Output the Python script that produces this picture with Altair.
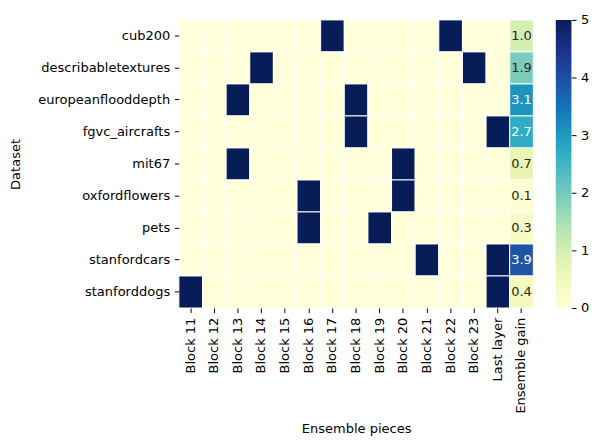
import altair as alt
import pandas as pd

datasets = ["cub200", "describabletextures", "europeanflooddepth", "fgvc_aircrafts",
            "mit67", "oxfordflowers", "pets", "stanfordcars", "stanforddogs"]
pieces = ["Block 11", "Block 12", "Block 13", "Block 14", "Block 15", "Block 16",
          "Block 17", "Block 18", "Block 19", "Block 20", "Block 21", "Block 22",
          "Block 23", "Last layer", "Ensemble gain"]
selected = {
    "cub200": ["Block 17", "Block 22"],
    "describabletextures": ["Block 14", "Block 23"],
    "europeanflooddepth": ["Block 13", "Block 18"],
    "fgvc_aircrafts": ["Block 18", "Last layer"],
    "mit67": ["Block 13", "Block 20"],
    "oxfordflowers": ["Block 16", "Block 20"],
    "pets": ["Block 16", "Block 19"],
    "stanfordcars": ["Block 21", "Last layer"],
    "stanforddogs": ["Block 11", "Last layer"],
}
gains = [1.0, 1.9, 3.1, 2.7, 0.7, 0.1, 0.3, 3.9, 0.4]
selected_value = 5
colorbar_ticks = [0, 1, 2, 3, 4, 5]

rows = []
for ds, g in zip(datasets, gains):
    for p in pieces:
        if p == "Ensemble gain":
            v = g
        else:
            v = selected_value if p in selected[ds] else 0
        rows.append({"Dataset": ds, "piece": p, "value": v, "is_gain": p == "Ensemble gain"})
df = pd.DataFrame(rows)
ticks_df = pd.DataFrame({"tick": colorbar_ticks})

ylgnbu = ["#ffffd9", "#edf8b1", "#c7e9b4", "#7fcdbb", "#41b6c4",
          "#1d91c0", "#225ea8", "#253494", "#081d58"]
stops = [i * 5 / 8 for i in range(9)]

FS = 13.33
W, H = 363, 295
x_enc = alt.X("piece:N", sort=pieces, title="Ensemble pieces",
              scale=alt.Scale(paddingInner=0, paddingOuter=0),
              axis=alt.Axis(labelAngle=-90, domain=False, tickColor="black", tickSize=4.7,
                            labelPadding=4.7, labelFontSize=FS, titleFontSize=FS,
                            titleFontWeight="normal", titlePadding=9, labelColor="black",
                            titleColor="black"))
y_enc = alt.Y("Dataset:N", sort=datasets, title="Dataset",
              scale=alt.Scale(paddingInner=0, paddingOuter=0),
              axis=alt.Axis(domain=False, tickColor="black", tickSize=4.7,
                            labelPadding=4.7, labelFontSize=FS, titleFontSize=FS,
                            titleFontWeight="normal", titlePadding=16, labelColor="black",
                            titleColor="black"))

rect = alt.Chart(df).mark_rect(stroke="white", strokeWidth=1).encode(
    x=x_enc, y=y_enc,
    color=alt.Color("value:Q",
                    scale=alt.Scale(domain=stops, range=ylgnbu, clamp=True),
                    legend=alt.Legend(title=None, orient="none", legendX=W + 23, legendY=0,
                                      gradientLength=H, gradientThickness=16,
                                      padding=0, labelOpacity=0, labelFontSize=1,
                                      labelOffset=0,
                                      values=colorbar_ticks, gradientStrokeWidth=0)),
)

text = alt.Chart(df).transform_filter("datum.is_gain").mark_text(fontSize=FS).encode(
    x=alt.X("piece:N", sort=pieces),
    y=alt.Y("Dataset:N", sort=datasets),
    text=alt.Text("value:Q", format=".1f"),
    color=alt.condition("datum.value > 2.5", alt.value("white"), alt.value("#262626")),
)

cbar_axis = alt.Chart(ticks_df).mark_point(opacity=0, size=0).encode(
    y=alt.Y("tick:Q", scale=alt.Scale(domain=[0, 5], nice=False, zero=False),
            axis=alt.Axis(orient="right", offset=23 + 16, values=colorbar_ticks,
                          domain=False, grid=False, tickColor="black", tickSize=4.7,
                          labelPadding=4.7, labelFontSize=FS, labelColor="black",
                          title=None, format="d")),
)

chart = alt.layer(alt.layer(rect, text), cbar_axis).resolve_scale(y="independent").properties(
    width=W, height=H,
    padding={"left": 0, "top": 0, "right": 0, "bottom": 0},
).configure(font="DejaVu Sans").configure_view(stroke=None)

chart.save("out.html", embed_options={"renderer": "svg", "actions": False})
